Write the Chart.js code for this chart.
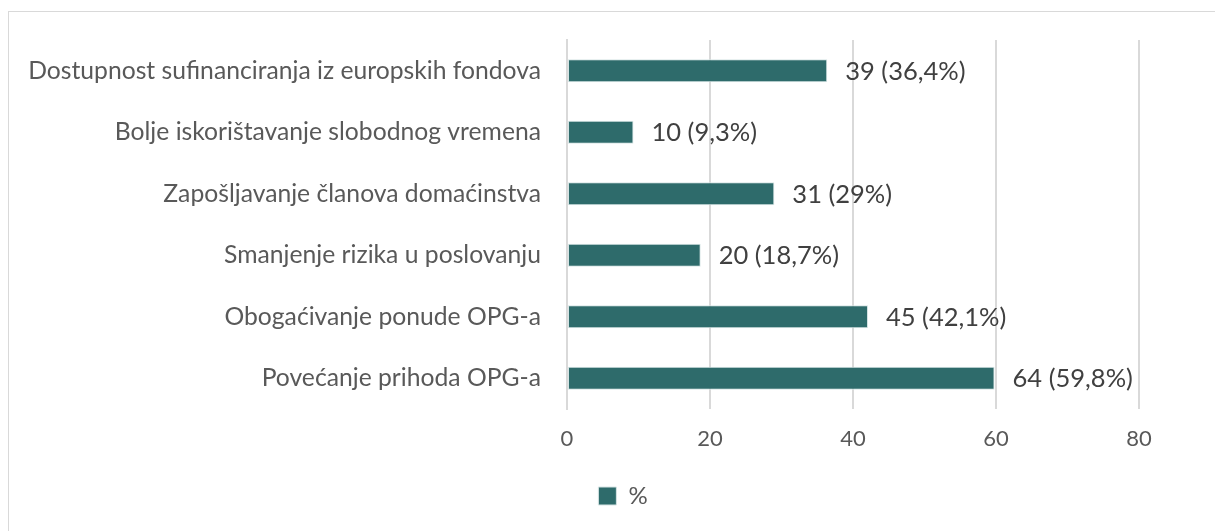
<!DOCTYPE html>
<html>
<head>
<meta charset="utf-8">
<script src="https://cdn.jsdelivr.net/npm/chart.js@4.4.1/dist/chart.umd.min.js"></script>
<style>
    html, body { margin: 0; padding: 0; background: #fff; overflow: hidden; }
    #frame {
        position: absolute; left: 8px; top: 11px;
        width: 1230px; height: 530px;
        border: 1px solid #d9d9d9;
        box-sizing: border-box;
    }
    #wrap { position: absolute; left: 0; top: 0; width: 1228px; height: 528px; }
</style>
</head>
<body>
<div id="frame"><div id="wrap"><canvas id="chart"></canvas></div></div>
<script>
// ---------------- data ----------------
const categories = [
    "Dostupnost sufinanciranja iz europskih fondova",
    "Bolje iskorištavanje slobodnog vremena",
    "Zapošljavanje članova domaćinstva",
    "Smanjenje rizika u poslovanju",
    "Obogaćivanje ponude OPG-a",
    "Povećanje prihoda OPG-a"
];
const counts   = [39, 10, 31, 20, 45, 64];
const percents = [36.4, 9.3, 29, 18.7, 42.1, 59.8];
const xTicks   = [0, 20, 40, 60, 80];
const seriesName = "%";

const BAR = "#2e6b6b";
const FONT = "Lato, 'Noto Sans', sans-serif";

// label after each bar: "39 (36,4%)"
function fmtLabel(i) {
    const p = String(percents[i]).replace(".", ",");
    return `${counts[i]} (${p}%)`;
}

const valueLabels = {
    id: "valueLabels",
    afterDatasetsDraw(chart) {
        const ctx = chart.ctx;
        const meta = chart.getDatasetMeta(0);
        ctx.save();
        ctx.font = `25.5px ${FONT}`;
        ctx.fillStyle = "#404040";
        ctx.textAlign = "left";
        ctx.textBaseline = "middle";
        meta.data.forEach((bar, i) => {
            ctx.fillText(fmtLabel(i), bar.x + 18, bar.y + 1);
        });
        ctx.restore();
    }
};

new Chart(document.getElementById("chart"), {
    type: "bar",
    data: {
        labels: categories,
        datasets: [{
            label: seriesName,
            data: percents,
            backgroundColor: BAR,
            borderColor: "#d6e4e4",
            borderWidth: 1,
            borderSkipped: false,
            categoryPercentage: 1,
            barPercentage: 0.37
        }]
    },
    options: {
        indexAxis: "y",
        responsive: true,
        maintainAspectRatio: false,
        animation: false,
        layout: { padding: { top: 28, right: 0, bottom: 22, left: 0 } },
        scales: {
            x: {
                min: 0, max: 80,
                afterBuildTicks: (s) => { s.ticks = xTicks.map(v => ({ value: v })); },
                grid: { color: "#d9d9d9", lineWidth: 2, drawTicks: false },
                border: { display: false },
                ticks: { color: "#595959", font: { family: FONT, size: 22 }, padding: 17 },
                afterFit: (s) => { s.height = 65; s.paddingRight = 98; }
            },
            y: {
                grid: { display: false, drawTicks: false },
                border: { display: true, color: "#d9d9d9", width: 2 },
                ticks: { color: "#595959", font: { family: FONT, size: 24.7 }, padding: 26 },
                afterFit: (s) => { s.width = 558; s.paddingTop = 0; s.paddingBottom = 0; }
            }
        },
        plugins: {
            legend: {
                position: "bottom",
                labels: {
                    color: "#595959",
                    font: { family: FONT, size: 24 },
                    boxWidth: 18, boxHeight: 18,
                    padding: 10
                }
            },
            tooltip: { enabled: false }
        }
    },
    plugins: [valueLabels]
});
</script>
</body>
</html>
